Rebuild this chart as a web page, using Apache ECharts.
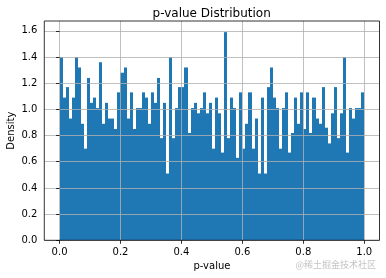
<!DOCTYPE html>
<html>
<head>
<meta charset="utf-8">
<script src="https://cdn.jsdelivr.net/npm/echarts@6/dist/echarts.min.js"></script>
<style>
  html, body { margin: 0; padding: 0; background: #fff; }
  #chart { width: 386px; height: 278px; }
</style>
</head>
<body>
<div id="chart"></div>
<script>
// Histogram of p-values: 100 bins over [0, 1], density-normalised
const binLow = 0;
const binHigh = 1;
const densities = [
  1.40, 1.09, 1.17, 0.93, 1.09, 1.40, 1.32, 0.89, 0.70, 1.24,
  1.05, 1.09, 1.01, 1.36, 0.89, 1.05, 0.93, 0.93, 0.85, 1.13,
  1.28, 1.32, 0.93, 1.13, 0.85, 1.01, 1.01, 1.13, 1.09, 0.89,
  1.13, 1.05, 1.24, 0.78, 1.05, 0.51, 1.40, 0.78, 1.01, 1.17,
  1.17, 1.32, 0.82, 1.01, 1.05, 0.97, 1.01, 1.13, 0.97, 1.05,
  0.70, 1.09, 0.97, 0.67, 1.59, 0.78, 1.09, 1.01, 0.63, 1.13,
  0.70, 0.89, 1.13, 0.70, 0.93, 0.51, 1.09, 0.51, 1.17, 1.32,
  1.09, 1.01, 0.70, 1.01, 1.13, 0.67, 0.82, 1.09, 0.89, 1.13,
  0.85, 1.13, 0.82, 1.09, 0.93, 0.89, 1.17, 0.86, 0.74, 0.97,
  1.17, 0.78, 0.97, 1.40, 0.67, 1.01, 0.93, 1.01, 1.01, 1.13
];
const xTicks = [0.0, 0.2, 0.4, 0.6, 0.8, 1.0];
const yTicks = [0.0, 0.2, 0.4, 0.6, 0.8, 1.0, 1.2, 1.4, 1.6];
const titleText = 'p-value Distribution';
const xLabel = 'p-value';
const yLabel = 'Density';
const watermark = '@稀土掘金技术社区';

const binWidth = (binHigh - binLow) / densities.length;
const histData = densities.map((d, i) => [binLow + i * binWidth, binLow + (i + 1) * binWidth, d]);

const FONT = '"DejaVu Sans", sans-serif';
const GRID_LINE = { show: true, lineStyle: { color: '#b0b0b0', width: 0.8 } };

const chart = echarts.init(document.getElementById('chart'), null, { renderer: 'canvas' });
chart.setOption({
  animation: false,
  backgroundColor: '#ffffff',
  textStyle: { fontFamily: FONT },
  title: {
    text: titleText,
    left: 211.7,
    top: 7.5,
    padding: 0,
    textAlign: 'center',
    textVerticalAlign: 'top',
    textStyle: { fontFamily: FONT, fontSize: 12, fontWeight: 'normal', color: '#000' }
  },
  grid: {
    show: true,
    z: 5,
    left: 44.3,
    top: 21,
    right: 6.5,
    bottom: 37.7,
    borderColor: '#000',
    borderWidth: 0.8,
    backgroundColor: 'transparent',
    containLabel: false,
    outerBoundsMode: 'none'
  },
  xAxis: {
    type: 'value',
    min: -0.05,
    max: 1.05,
    z: 4,
    name: xLabel,
    nameLocation: 'middle',
    nameGap: 21,
    nameMoveOverlap: false,
    nameTextStyle: { fontFamily: FONT, fontSize: 10, color: '#000' },
    axisLine: { show: false },
    axisTick: { show: true, length: 3.5, customValues: xTicks, lineStyle: { color: '#000', width: 0.8 } },
    axisLabel: {
      customValues: xTicks, margin: 7, fontFamily: FONT, fontSize: 10, color: '#000',
      formatter: v => Number(v).toFixed(1)
    },
    splitLine: GRID_LINE
  },
  yAxis: {
    type: 'value',
    min: 0,
    max: 1.675,
    interval: 0.2,
    z: 4,
    name: yLabel,
    nameLocation: 'middle',
    nameGap: 28,
    nameMoveOverlap: false,
    nameTextStyle: { fontFamily: FONT, fontSize: 10, color: '#000' },
    axisLine: { show: false },
    axisTick: { show: true, length: 3.5, customValues: yTicks, lineStyle: { color: '#000', width: 0.8 } },
    axisLabel: {
      customValues: yTicks, margin: 7, fontFamily: FONT, fontSize: 10, color: '#000',
      formatter: v => Number(v).toFixed(1)
    },
    splitLine: GRID_LINE
  },
  graphic: [{
    type: 'text',
    right: 10,
    top: 260,
    z: 10,
    style: { text: watermark, font: '9px "Noto Sans CJK SC", sans-serif', fill: '#c4c4c4' }
  }],
  series: [{
    type: 'custom',
    z: 1,
    data: histData,
    encode: { x: [0, 1], y: 2 },
    renderItem: function (params, api) {
      const topLeft = api.coord([api.value(0), api.value(2)]);
      const bottomRight = api.coord([api.value(1), 0]);
      const x0 = Math.round(topLeft[0]);
      const x1 = Math.round(bottomRight[0]);
      return {
        type: 'rect',
        shape: {
          x: x0,
          y: topLeft[1],
          width: x1 - x0,
          height: bottomRight[1] - topLeft[1]
        },
        style: { fill: '#1f77b4' }
      };
    }
  }]
});
</script>
</body>
</html>
